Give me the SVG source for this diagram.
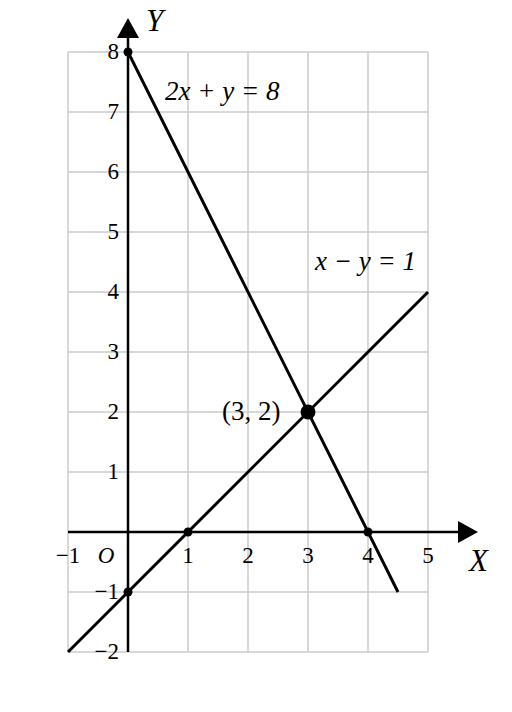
<svg xmlns="http://www.w3.org/2000/svg" width="512" height="712" viewBox="0 0 512 712">
<style>
.grid{stroke:#cccccc;stroke-width:1.5;fill:none}
.ax{stroke:#000;stroke-width:2.5;fill:none}
.ln{stroke:#000;stroke-width:3;fill:none;stroke-linecap:butt}
text{font-family:"Liberation Serif","Times New Roman",serif;fill:#000}
.tk{font-size:23px}
.lb{font-size:27px}
.axl{font-size:31px;font-style:italic}
.it{font-style:italic}
.ty{text-anchor:end}
.tx{text-anchor:middle}
</style>
<rect width="512" height="712" fill="#fff"/>
<g id="grid" class="grid">
<path d="M68 52V652M188 52V652M248 52V652M308 52V652M368 52V652M428 52V652"/>
<path d="M68 52H428M68 112H428M68 172H428M68 232H428M68 292H428M68 352H428M68 412H428M68 472H428M68 592H428M68 652H428"/>
</g>
<g id="axes">
<path class="ax" d="M68 532H460"/>
<polygon points="458,521 478,532 458,543" fill="#000"/>
<path class="ax" d="M128 652V36"/>
<polygon points="117,38 128,18 139,38" fill="#000"/>
<text class="axl" x="146" y="31">Y</text>
<text class="axl" x="469" y="571">X</text>
</g>
<g id="ticks" class="tk">
<text class="ty" x="119" y="59">8</text>
<text class="ty" x="119" y="119">7</text>
<text class="ty" x="119" y="179">6</text>
<text class="ty" x="119" y="239">5</text>
<text class="ty" x="119" y="299">4</text>
<text class="ty" x="119" y="359">3</text>
<text class="ty" x="119" y="419">2</text>
<text class="ty" x="119" y="479">1</text>
<text class="ty" x="119" y="599">−1</text>
<text class="ty" x="119" y="659">−2</text>
<text class="tx" x="68" y="563">−1</text>
<text class="it tx" x="106" y="563">O</text>
<text class="tx" x="188" y="563">1</text>
<text class="tx" x="248" y="563">2</text>
<text class="tx" x="308" y="563">3</text>
<text class="tx" x="368" y="563">4</text>
<text class="tx" x="428" y="563">5</text>
</g>
<g id="connectors">
<path id="line1" class="ln" d="M128 52L398 592"/>
<path id="line2" class="ln" d="M68 652L428 292"/>
</g>
<g id="points">
<circle cx="128" cy="52" r="4.5"/>
<circle cx="188" cy="532" r="4.5"/>
<circle cx="368" cy="532" r="4.5"/>
<circle cx="128" cy="592" r="4.5"/>
<circle cx="308" cy="412" r="7.5"/>
</g>
<g id="labels" class="lb">
<text class="it" x="165" y="100">2x + y = 8</text>
<text class="it" x="315" y="270">x − y = 1</text>
<text x="222" y="420">(3, 2)</text>
</g>
</svg>
